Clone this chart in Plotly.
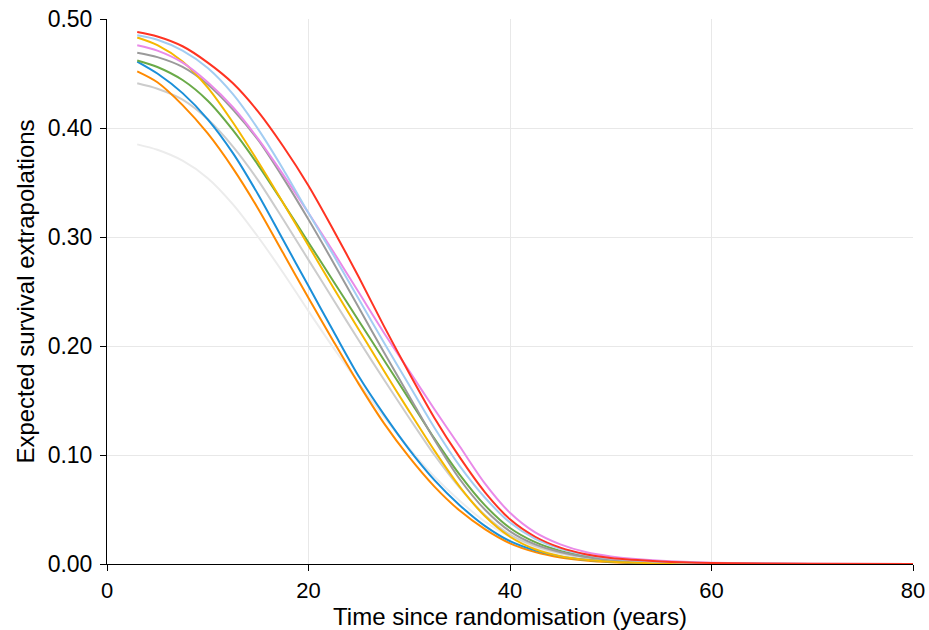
import plotly.graph_objects as go

# Time points (years since randomisation)
time_years = [3, 5, 7.5, 10, 12.5, 15, 17.5, 20, 22.5, 25, 27.5, 30, 32.5, 35, 37.5, 40, 42.5, 45, 47.5, 50, 55, 60, 70, 80]

# Expected survival extrapolations
s_red = [0.488, 0.484, 0.475, 0.460, 0.441, 0.415, 0.383, 0.347, 0.306, 0.263, 0.218, 0.175, 0.134, 0.098, 0.066, 0.041, 0.025, 0.015, 0.009, 0.0055, 0.0024, 0.001, 0.0002, 0.0]
s_pink = [0.476, 0.471, 0.460, 0.442, 0.419, 0.390, 0.357, 0.322, 0.286, 0.249, 0.212, 0.177, 0.142, 0.108, 0.074, 0.047, 0.029, 0.018, 0.011, 0.007, 0.003, 0.0012, 0.0002, 0.0]
s_lightblue = [0.485, 0.481, 0.471, 0.455, 0.431, 0.399, 0.362, 0.322, 0.283, 0.243, 0.203, 0.164, 0.125, 0.090, 0.061, 0.038, 0.023, 0.014, 0.0085, 0.005, 0.002, 0.0008, 0.0001, 0.0]
s_yellow = [0.483, 0.476, 0.461, 0.437, 0.405, 0.369, 0.331, 0.292, 0.253, 0.215, 0.177, 0.140, 0.104, 0.071, 0.044, 0.025, 0.0135, 0.0072, 0.0038, 0.002, 0.0006, 0.0002, 0.0, 0.0]
s_grey = [0.469, 0.465, 0.456, 0.440, 0.417, 0.389, 0.354, 0.316, 0.276, 0.235, 0.194, 0.154, 0.114, 0.078, 0.050, 0.030, 0.018, 0.011, 0.0065, 0.0038, 0.0012, 0.0004, 0.0, 0.0]
s_green = [0.462, 0.456, 0.444, 0.425, 0.398, 0.366, 0.331, 0.295, 0.259, 0.223, 0.187, 0.151, 0.115, 0.082, 0.054, 0.033, 0.020, 0.012, 0.0072, 0.0043, 0.0014, 0.0004, 0.0, 0.0]
s_lightgrey = [0.441, 0.436, 0.426, 0.408, 0.383, 0.352, 0.316, 0.279, 0.242, 0.205, 0.169, 0.134, 0.100, 0.070, 0.045, 0.027, 0.0165, 0.010, 0.006, 0.0035, 0.001, 0.0003, 0.0, 0.0]
s_blue = [0.461, 0.450, 0.432, 0.408, 0.377, 0.339, 0.297, 0.255, 0.213, 0.172, 0.137, 0.105, 0.077, 0.054, 0.035, 0.021, 0.0125, 0.007, 0.0038, 0.002, 0.0005, 0.0001, 0.0, 0.0]
s_orange = [0.452, 0.442, 0.421, 0.395, 0.363, 0.326, 0.285, 0.244, 0.204, 0.165, 0.129, 0.098, 0.071, 0.049, 0.032, 0.019, 0.011, 0.006, 0.0032, 0.0017, 0.0004, 0.0001, 0.0, 0.0]
s_verylightgrey = [0.385, 0.380, 0.370, 0.354, 0.330, 0.300, 0.267, 0.232, 0.198, 0.166, 0.135, 0.106, 0.080, 0.058, 0.039, 0.025, 0.015, 0.009, 0.0052, 0.003, 0.0009, 0.0002, 0.0, 0.0]

series = [
    ("Very light grey", s_verylightgrey, "#ececec"),
    ("Light grey", s_lightgrey, "#cccccc"),
    ("Orange", s_orange, "#ff8a00"),
    ("Blue", s_blue, "#1b8fd9"),
    ("Green", s_green, "#6aaa48"),
    ("Grey", s_grey, "#9a9a9a"),
    ("Yellow", s_yellow, "#f5b800"),
    ("Pink", s_pink, "#e98ae8"),
    ("Light blue", s_lightblue, "#a3cdf2"),
    ("Red", s_red, "#ff3322"),
]

fig = go.Figure()
for name, vals, col in series:
    fig.add_trace(go.Scatter(
        x=time_years, y=vals, mode="lines", name=name,
        line=dict(color=col, width=2, shape="spline", smoothing=0.8),
        showlegend=False,
    ))

font_family = "Liberation Sans, Arial, sans-serif"
fig.update_layout(
    width=929, height=630,
    margin=dict(l=107, r=16, t=19, b=66),
    paper_bgcolor="white", plot_bgcolor="white",
    font=dict(family=font_family, size=23, color="#000000"),
)
fig.update_xaxes(
    range=[0, 80], tickvals=[0, 20, 40, 60, 80],
    showgrid=True, gridcolor="#e8e8e8", gridwidth=1,
    zeroline=False, showline=True, linecolor="#000000", linewidth=1,
    ticks="outside", ticklen=6, tickcolor="#000000",
    ticklabelstandoff=1, automargin=False,
    title=dict(text="Time since randomisation (years)", standoff=9, font=dict(size=24)),
    tickfont=dict(size=22),
)
fig.update_yaxes(
    range=[0, 0.5], tickvals=[0, 0.1, 0.2, 0.3, 0.4, 0.5], tickformat=".2f",
    showgrid=True, gridcolor="#e8e8e8", gridwidth=1,
    zeroline=False, showline=True, linecolor="#000000", linewidth=1,
    ticks="outside", ticklen=6, tickcolor="#000000",
    ticklabelstandoff=3, automargin=False,
    title=dict(text="Expected survival extrapolations", standoff=6, font=dict(size=24)),
    tickfont=dict(size=23),
)

fig.write_html("out.html")
